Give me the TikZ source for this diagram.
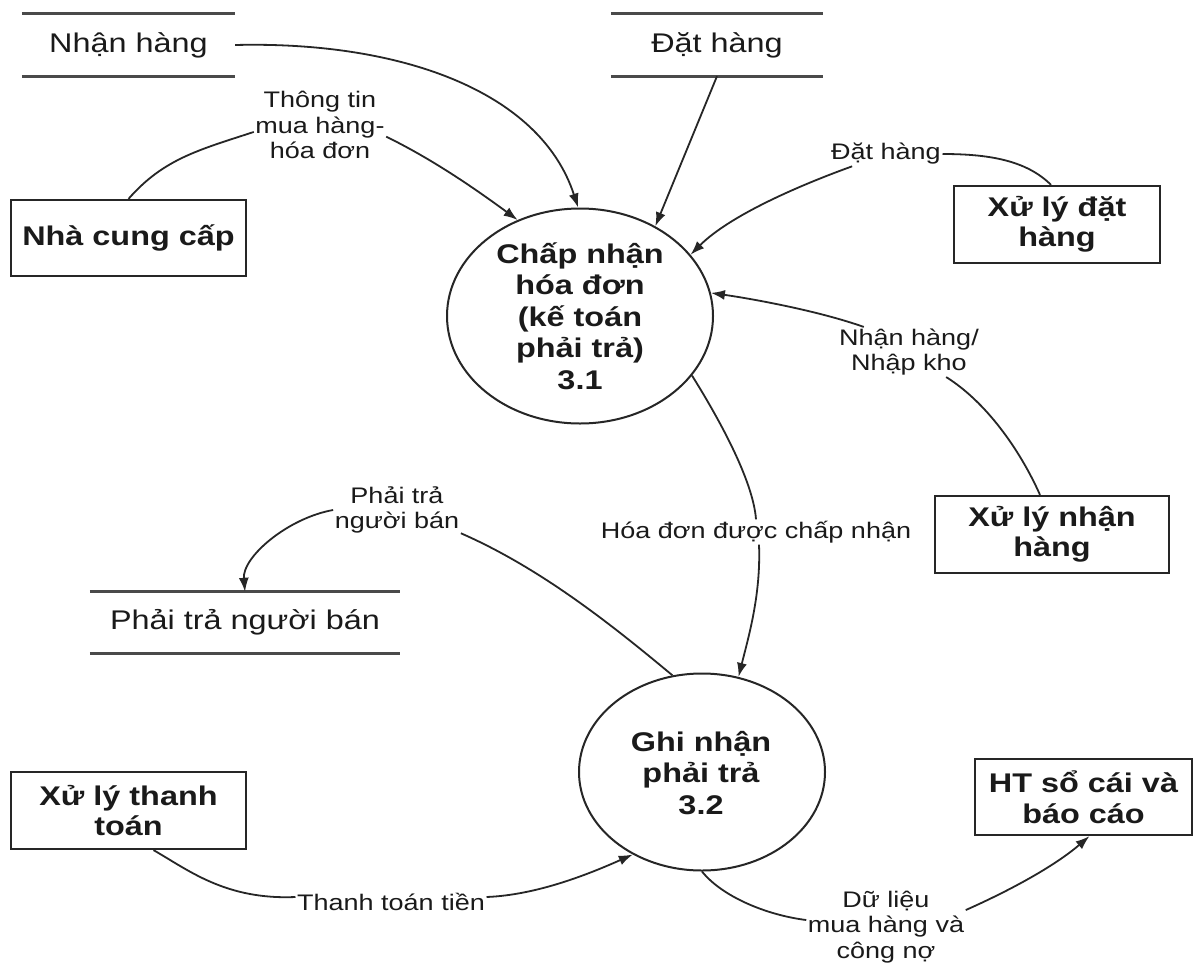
\documentclass[tikz,border=0pt]{standalone}
\usepackage{fontspec}
\setmainfont{Liberation Sans}[FakeStretch=1.2]
\usetikzlibrary{shapes.geometric,arrows.meta}
\definecolor{ink}{HTML}{1A1A1A}
\definecolor{lineC}{HTML}{262626}
\definecolor{storeC}{HTML}{4A4A4A}
\begin{document}
\begin{tikzpicture}[x=1pt,y=-1pt,
  every node/.style={text=ink},
  store/.style={inner sep=0pt, font=\fontsize{27}{31}\selectfont},
  storeline/.style={draw=storeC, line width=2.7pt},
  entity/.style={draw=lineC, line width=2.2pt, inner sep=0pt, align=center, font=\fontsize{27}{30.5}\selectfont\bfseries},
  proc/.style={ellipse, draw=lineC, line width=2pt, inner sep=0pt},
  proctext/.style={align=center, inner sep=0pt, font=\fontsize{27}{31.5}\selectfont\bfseries},
  lbl/.style={align=center, inner sep=1.5pt, font=\fontsize{22.5}{25.5}\selectfont},
  flow/.style={draw=lineC, line width=1.8pt},
  arr/.style={flow, -{Latex[length=14pt,width=10pt]}},
]
\fill[white] (0,0) rectangle (1194,964);
\useasboundingbox (0,0) rectangle (1194,964);

% data stores
\node[store, minimum width=213pt, minimum height=62pt] (snh) at (128.5,45) {Nhận hàng};
\node[store, minimum width=212pt, minimum height=62pt] (sdh) at (717,45) {Đặt hàng};
\node[store, minimum width=310pt, minimum height=61pt] (spt) at (245,622.5) {Phải trả người bán};
\foreach \s in {snh,sdh,spt}
  \draw[storeline] (\s.north west) -- (\s.north east) (\s.south west) -- (\s.south east);

% external entities
\node[entity, minimum width=235pt, minimum height=76pt] (ncc) at (128.5,238) {Nhà cung cấp};
\node[entity, minimum width=206pt, minimum height=77pt] (xldh) at (1057,224.5) {Xử lý đặt\\hàng};
\node[entity, minimum width=234pt, minimum height=77pt] (xlnh) at (1052,534.5) {Xử lý nhận\\hàng};
\node[entity, minimum width=235pt, minimum height=77pt] (xltt) at (128.5,810.5) {Xử lý thanh\\toán};
\node[entity, minimum width=217pt, minimum height=76pt] (ht) at (1083.5,797) {HT sổ cái và\\báo cáo};

% processes
\node[proc, minimum width=266pt, minimum height=215pt] (c1) at (580,316) {};
\node[proctext] (c1t) at (580,316) {Chấp nhận\\hóa đơn\\(kế toán\\phải trả)\\3.1};
\node[proc, minimum width=246pt, minimum height=197pt] (c2) at (702,772) {};
\node[proctext] (c2t) at (701,773) {Ghi nhận\\phải trả\\3.2};

% flow labels
\node[lbl] (l1) at (320,125) {Thông tin\\mua hàng-\\hóa đơn};
\node[lbl] (l2) at (886,154) {Đặt hàng};
\node[lbl] (l3) at (909,352) {Nhận hàng/\\Nhập kho};
\node[lbl] (l4) at (756,532) {Hóa đơn được chấp nhận};
\node[lbl] (l5) at (397,510) {Phải trả\\người bán};
\node[lbl] (l6) at (391,902) {Thanh toán tiền};
\node[lbl] (l7) at (886,927) {Dữ liệu\\mua hàng và\\công nợ};

% flows
\draw[arr] (snh.east) .. controls +(164,-4) and +(-38,-117) .. (c1.91);
\draw[arr] (sdh.south) -- (c1.50);

\draw[flow] (ncc.north) .. controls +(35,-40) and +(-55,18) .. (l1.186);
\draw[arr] (l1.350) .. controls +(45,22) and +(-45,-33) .. (c1.123);

\draw[flow] ([xshift=-6pt]xldh.north) .. controls +(-25,-25) and +(45,0) .. (l2.east);
\draw[arr] (l2.200) .. controls +(-50,18) and +(40,-40) .. (c1.29);

\draw[flow] ([xshift=-12pt]xlnh.north) .. controls +(-20,-45) and +(40,25) .. (l3.326);
\draw[arr] (l3.151) .. controls +(-45,-16) and +(42,6) .. (c1.10);

\draw[flow] (c1.332) .. controls +(25,40) and +(-3,-40) .. (l4.north);
\draw[arr] ([xshift=3pt]l4.south) .. controls +(2,50) and +(10,-40) .. (c2.69);

\draw[flow] (c2.107) .. controls +(-60,-50) and +(80,35) .. (l5.340);
\draw[arr] (l5.west) .. controls +(-45,8) and +(-3,-35) .. (spt.north);

\draw[flow] ([xshift=25pt]xltt.south) .. controls +(35,20) and +(-70,3) .. ([yshift=5pt]l6.west);
\draw[arr] ([yshift=5pt]l6.east) .. controls +(50,-2) and +(-45,20) .. (c2.230);

\draw[flow] (c2.270) .. controls +(20,25) and +(-40,-5) .. (l7.175);
\draw[arr] (l7.12) .. controls +(45,-20) and +(-35,30) .. ([xshift=6pt]ht.south);
\end{tikzpicture}
\end{document}
